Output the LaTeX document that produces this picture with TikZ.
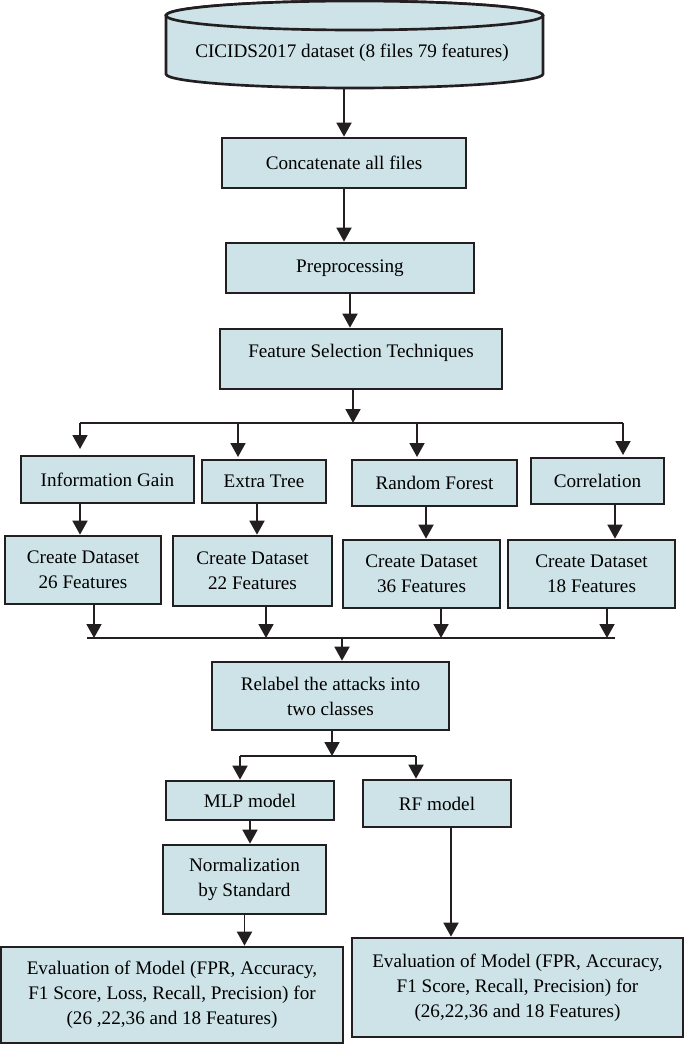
\documentclass[tikz,border=0pt]{standalone}
\usepackage{fontspec}
\setmainfont{Liberation Serif}
\usetikzlibrary{arrows.meta}

\definecolor{boxfill}{RGB}{205,227,232}
\definecolor{edge}{RGB}{35,31,32}
\newcommand{\pxu}{0.6pt}

\tikzset{
    box/.style={draw=edge,line width=1.6pt,fill=boxfill,align=center,inner sep=1pt},
    arr/.style={draw=edge,line width=1.1pt,-{Triangle[length=8.4pt,width=9pt]}},
    bus/.style={draw=edge,line width=1.1pt}
}

\begin{document}
\begin{tikzpicture}[x=\pxu,y=-\pxu,font=\fontsize{11.5}{15}\selectfont]
    
    \useasboundingbox (0,0) rectangle (685,1045);
    
    % dataset cylinder
    \draw[draw=edge,line width=1.6pt,fill=boxfill] (166,15.5) -- (166,74)
        arc[start angle=180,end angle=360,x radius=113.1pt,y radius=8.4pt] -- (543,15.5)
        arc[start angle=0,end angle=180,x radius=113.1pt,y radius=8.7pt] -- cycle;
    \draw[draw=edge,line width=1.6pt,fill=boxfill] (354.5,15.5) ellipse [x radius=113.1pt,y radius=8.7pt];
    \node[minimum height=70*\pxu] (data) at (352,53) {CICIDS2017 dataset (8 files 79 features)};
    
    % main steps
    \node[box,minimum width=244*\pxu,minimum height=50*\pxu] (conc) at (344,163) {Concatenate all files};
    \node[box,minimum width=248*\pxu,minimum height=50*\pxu] (prep) at (350,268) {Preprocessing};
    \node[box,minimum width=282*\pxu,minimum height=60*\pxu,text depth=16*\pxu] (fs) at (361,359) {Feature Selection Techniques};
    
    % feature selection methods
    \node[box,minimum width=173*\pxu,minimum height=47*\pxu] (ig) at (107.5,479.5) {Information Gain};
    \node[box,minimum width=124*\pxu,minimum height=43*\pxu] (et) at (264,481.5) {Extra Tree};
    \node[box,minimum width=165*\pxu,minimum height=46*\pxu] (rf) at (434.5,483) {Random Forest};
    \node[box,minimum width=133*\pxu,minimum height=46*\pxu] (co) at (597.5,481) {Correlation};
    
    % datasets
    \node[box,minimum width=156*\pxu,minimum height=68*\pxu] (cd1) at (83,570) {Create Dataset\\26 Features};
    \node[box,minimum width=159*\pxu,minimum height=70*\pxu] (cd2) at (252.5,571) {Create Dataset\\22 Features};
    \node[box,minimum width=157*\pxu,minimum height=68*\pxu] (cd3) at (421.5,574) {Create Dataset\\36 Features};
    \node[box,minimum width=167*\pxu,minimum height=68*\pxu] (cd4) at (591.5,574) {Create Dataset\\18 Features};
    
    % relabel and models
    \node[box,minimum width=237*\pxu,minimum height=68*\pxu] (rel) at (330.5,696) {Relabel the attacks into\\two classes};
    \node[box,minimum width=168*\pxu,minimum height=39*\pxu] (mlp) at (250,800.5) {MLP model};
    \node[box,minimum width=148*\pxu,minimum height=47*\pxu] (rfm) at (437,803.5) {RF model};
    \node[box,minimum width=163*\pxu,minimum height=69*\pxu] (norm) at (244.5,879.5) {Normalization\\by Standard};
    
    % evaluation
    \node[box,minimum width=342*\pxu,minimum height=96*\pxu] (ev1) at (172,995) {Evaluation of Model (FPR, Accuracy,\\F1 Score, Loss, Recall, Precision) for\\(26 ,22,36 and 18 Features)};
    \node[box,minimum width=331*\pxu,minimum height=99*\pxu] (ev2) at (517.5,987.5) {Evaluation of Model (FPR, Accuracy,\\F1 Score, Recall, Precision) for\\(26,22,36 and 18 Features)};
    
    % main chain
    \draw[arr] (data.south -| conc.north) -- (conc.north);
    \draw[arr] (conc.south) -- (conc.south |- prep.north);
    \draw[arr] (prep.south) -- (prep.south |- fs.north);
    
    % split to the four methods
    \coordinate (tl) at (80,423);
    \coordinate (tr) at (623,423);
    \draw[bus] (tl) -- (tr);
    \draw[arr] (353,0 |- fs.south) -- (353,0 |- tl);
    \coordinate (ig-in) at (80,449);
    \coordinate (et-in) at (238,457);
    \coordinate (rf-in) at (417,457);
    \coordinate (co-in) at (623,455);
    \foreach \c in {ig-in,et-in,rf-in,co-in}
        \draw[arr] (\c |- tl) -- (\c);
    
    % methods to datasets
    \foreach \a/\b/\x in {ig/cd1/80,et/cd2/257,rf/cd3/426,co/cd4/615}
        \draw[arr] (\x,0 |- \a.south) -- (\x,0 |- \b.north);
    
    % join the datasets
    \coordinate (bl) at (87,638);
    \coordinate (br) at (615,638);
    \draw[bus] (bl) -- (br);
    \foreach \a/\x in {cd1/94,cd2/266,cd3/441,cd4/607}
        \draw[arr] (\x,0 |- \a.south) -- (\x,0 |- bl);
    \draw[arr] (342,0 |- bl) -- (342,0 |- rel.north);
    
    % split to the two models
    \coordinate (ml) at (240,756);
    \coordinate (mr) at (416,756);
    \draw[bus] (ml) -- (mr);
    \draw[arr] (332,0 |- rel.south) -- (332,0 |- ml);
    \draw[arr] (ml) -- (ml |- mlp.north);
    \draw[arr] (mr) -- (mr |- rfm.north);
    
    \draw[arr] (mlp.south) -- (mlp.south |- norm.north);
    \draw[arr] (norm.south) -- (norm.south |- ev1.north);
    \draw[arr] (451,0 |- rfm.south) -- (451,0 |- ev2.north);
    
\end{tikzpicture}
\end{document}
